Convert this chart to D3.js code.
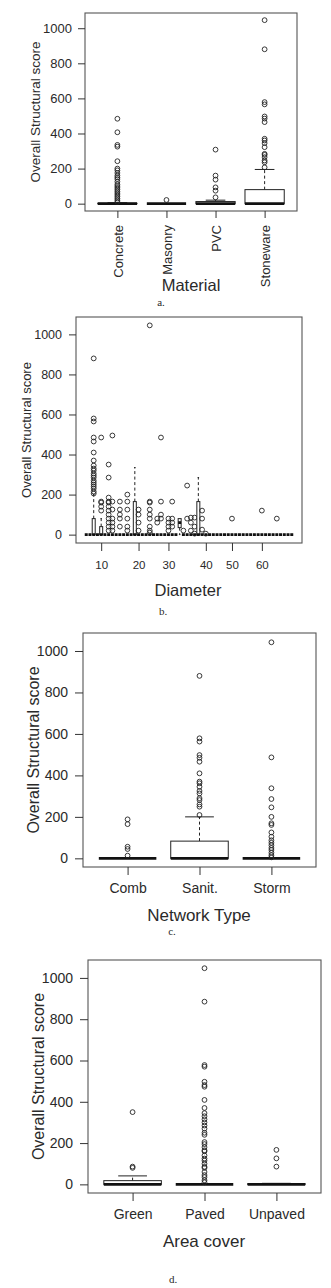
<!DOCTYPE html>
<html>
<head>
<meta charset="utf-8">
<script src="https://cdn.jsdelivr.net/npm/d3@7"></script>
<style>
  html, body { margin: 0; padding: 0; background: #fff; }
  svg { display: block; }
  text { font-family: "Liberation Sans", Arial, Helvetica, sans-serif; fill: #2a2a2a; }
  .cap { font-family: "Liberation Serif", "Times New Roman", serif; }
</style>
</head>
<body>
<svg id="chart" width="331" height="1288"></svg>
<script>
// ---------------- DATA ----------------
const yTicks = [0, 200, 400, 600, 800, 1000];
const yLabel = "Overall Structural score";

// Panel a: Material
const materialCats = ["Concrete", "Masonry", "PVC", "Stoneware"];
const materialQ1  = [0, 0, 0, 0];
const materialMed = [0, 0, 0, 0];
const materialQ3  = [2, 0, 12, 80];
const materialLo  = [0, 0, 0, 0];
const materialHi  = [5, 0, 20, 195];
const materialOutliers = [
  [484, 407, 335, 325, 242, 200, 190, 175, 160, 150, 140, 125, 110, 100, 90, 80, 70, 60, 50, 40, 30, 20, 10],
  [21],
  [308, 160, 137, 93, 74, 36],
  [1046, 880, 579, 566, 497, 485, 465, 370, 360, 345, 322, 284, 278, 265, 246, 236, 207]
];

// Panel b: Diameter
const diamCats = ["6","7","8","9","10","11","12","13","14","15","16","17","18","19","20","21","22","23","24","25",
  "26","28","30","31","32","33","34","35","36","37","38","39","40","41","42","44","45","46","48","50",
  "51","52","53","54","55","56","58","60","62","63","65","70","75","80","90","100"];
const diamTicks = ["10", "20", "30", "40", "50", "60"];
// categories that have a visible box (all others: box and median at 0)
const diamBoxCats = ["8", "10", "19", "33", "38"];
const diamBoxQ1   = [0, 0, 0, 35, 0];
const diamBoxMed  = [0, 0, 0, 60, 0];
const diamBoxQ3   = [80, 40, 165, 80, 165];
const diamBoxHi   = [200, 80, 335, 80, 285];
const diamOutliers = [
  ["8", [205, 215, 230, 240, 250, 260, 270, 285, 295, 305, 320, 330, 345, 370, 410, 465, 485, 565, 580, 880]],
  ["10", [120, 140, 160, 165, 485]],
  ["12", [350, 285, 185, 165, 160, 140, 120, 100, 80, 60, 40, 20]],
  ["13", [495, 165, 125, 80, 60, 40, 20]],
  ["15", [165, 125, 100, 80, 40]],
  ["17", [200, 165, 125, 80, 40, 20]],
  ["20", [125, 100, 60, 20]],
  ["23", [1045, 165, 160, 125, 100, 80, 40, 20, 10]],
  ["25", [80, 60]],
  ["26", [485, 165, 100, 80]],
  ["30", [80, 60, 40, 20]],
  ["31", [165, 80, 60, 40]],
  ["34", [20]],
  ["35", [245, 80]],
  ["36", [85, 60, 20]],
  ["37", [85, 40, 5]],
  ["39", [120, 80, 25]],
  ["40", [5]],
  ["50", [80]],
  ["60", [120]],
  ["70", [80]]
];

// Panel c: Network type
const networkCats = ["Comb", "Sanit.", "Storm"];
const networkQ1  = [0, 0, 0];
const networkMed = [0, 0, 0];
const networkQ3  = [0, 83, 0];
const networkLo  = [0, 0, 0];
const networkHi  = [0, 200, 0];
const networkOutliers = [
  [188, 165, 56, 45, 13],
  [880, 579, 563, 498, 485, 466, 410, 370, 362, 345, 325, 313, 290, 281, 260, 249, 209],
  [1042, 487, 338, 286, 246, 200, 169, 161, 125, 104, 87, 75, 63, 50, 40, 27, 15, 5]
];

// Panel d: Area cover
const coverCats = ["Green", "Paved", "Unpaved"];
const coverQ1  = [0, 0, 0];
const coverMed = [0, 0, 0];
const coverQ3  = [18, 0, 3];
const coverLo  = [0, 0, 0];
const coverHi  = [41, 0, 5];
const coverOutliers = [
  [350, 86, 80],
  [1047, 885, 578, 570, 497, 481, 473, 409, 370, 345, 330, 315, 300, 285, 270, 250, 240, 205, 195, 180,
   165, 160, 140, 125, 115, 100, 85, 80, 60, 45, 35, 20, 10],
  [167, 126, 86]
];

// ---------------- DRAWING ----------------
const svg = d3.select("#chart");
const yDomain = [-41.8, 1086.8];

function drawPanel(cfg) {
  const n = cfg.cats.length;
  const x = d3.scaleLinear().domain([0.5 - 0.04 * n, n + 0.5 + 0.04 * n]).range([cfg.l, cfg.r]);
  const y = d3.scaleLinear().domain(yDomain).range([cfg.b, cfg.t]);
  const unit = x(1) - x(0);
  const g = svg.append("g");

  cfg.stats.forEach((s, i) => {
    const cx = x(i + 1);
    const hw = 0.4 * unit;
    const sw = 0.2 * unit;
    if (s.hi > s.q3) {
      g.append("line").attr("x1", cx).attr("x2", cx).attr("y1", y(s.q3)).attr("y2", y(s.hi))
        .attr("stroke", "#222").attr("stroke-width", 1).attr("stroke-dasharray", "3,2.5");
      g.append("line").attr("x1", cx - sw).attr("x2", cx + sw).attr("y1", y(s.hi)).attr("y2", y(s.hi))
        .attr("stroke", "#222").attr("stroke-width", 1);
    }
    if (s.lo < s.q1) {
      g.append("line").attr("x1", cx).attr("x2", cx).attr("y1", y(s.q1)).attr("y2", y(s.lo))
        .attr("stroke", "#222").attr("stroke-width", 1).attr("stroke-dasharray", "3,2.5");
      g.append("line").attr("x1", cx - sw).attr("x2", cx + sw).attr("y1", y(s.lo)).attr("y2", y(s.lo))
        .attr("stroke", "#222").attr("stroke-width", 1);
    }
    if (s.q3 > s.q1) {
      g.append("rect").attr("x", cx - hw).attr("width", 2 * hw)
        .attr("y", y(s.q3)).attr("height", y(s.q1) - y(s.q3))
        .attr("fill", "#fff").attr("stroke", "#222").attr("stroke-width", 1);
    }
    g.append("line").attr("x1", cx - hw).attr("x2", cx + hw).attr("y1", y(s.med)).attr("y2", y(s.med))
      .attr("stroke", "#111").attr("stroke-width", 2.8);
    g.selectAll(null).data(s.out).enter().append("circle")
      .attr("cx", cx).attr("cy", d => y(d)).attr("r", cfg.r0 || 2.4)
      .attr("fill", "none").attr("stroke", "#222").attr("stroke-width", 0.9);
  });

  g.append("rect").attr("x", cfg.l).attr("y", cfg.t).attr("width", cfg.r - cfg.l).attr("height", cfg.b - cfg.t)
    .attr("fill", "none").attr("stroke", "#555").attr("stroke-width", 1.1);

  const ya = g.append("g").attr("transform", `translate(${cfg.l},0)`)
    .call(d3.axisLeft(y).tickValues(yTicks).tickFormat(d3.format("d")).tickSize(cfg.ytick).tickPadding(cfg.ypad));
  ya.select(".domain").remove();
  ya.selectAll("line").attr("stroke", "#333");
  ya.selectAll("text").style("font-size", cfg.yfs + "px").attr("fill", "#2a2a2a")
    .style("font-family", '"Liberation Sans", Arial, sans-serif');

  const xa = g.append("g").attr("transform", `translate(0,${cfg.b})`)
    .call(d3.axisBottom(x).tickValues(cfg.tickIdx).tickFormat((d, i) => cfg.tickLabels[i]).tickSize(cfg.xtick));
  xa.select(".domain").remove();
  xa.selectAll("line").attr("stroke", "#333");
  const xt = xa.selectAll("text").style("font-size", cfg.xfs + "px").attr("fill", "#2a2a2a")
    .style("font-family", '"Liberation Sans", Arial, sans-serif');
  if (cfg.rotate) {
    xt.attr("transform", "rotate(-90)").attr("x", -cfg.xlabOff).attr("y", 0).attr("dy", "0.36em")
      .style("text-anchor", "end");
  } else {
    xt.attr("y", cfg.xlabOff).attr("dy", null);
  }

  svg.append("text").attr("transform", `translate(${cfg.ylx},${(cfg.t + cfg.b) / 2}) rotate(-90)`)
    .attr("text-anchor", "middle").attr("dy", "0.36em").style("font-size", cfg.ylfs + "px").text(yLabel);
  svg.append("text").attr("x", cfg.xtx).attr("y", cfg.xty).attr("text-anchor", "middle")
    .style("font-size", cfg.xtfs + "px").text(cfg.title);
  svg.append("text").attr("class", "cap").attr("x", cfg.capx).attr("y", cfg.capy).attr("text-anchor", "middle")
    .style("font-size", "11px").text(cfg.cap);
}

function zipStats(q1, med, q3, lo, hi, outs) {
  return q1.map((d, i) => ({ q1: d, med: med[i], q3: q3[i], lo: lo[i], hi: hi[i], out: outs[i] }));
}

const diamStats = diamCats.map(c => {
  const bi = diamBoxCats.indexOf(c);
  const o = diamOutliers.find(d => d[0] === c);
  return bi >= 0
    ? { q1: diamBoxQ1[bi], med: diamBoxMed[bi], q3: diamBoxQ3[bi], lo: 0, hi: diamBoxHi[bi], out: o ? o[1] : [] }
    : { q1: 0, med: 0, q3: 0, lo: 0, hi: 0, out: o ? o[1] : [] };
});

drawPanel({
  cats: materialCats, stats: zipStats(materialQ1, materialMed, materialQ3, materialLo, materialHi, materialOutliers),
  l: 85, r: 297, t: 13, b: 211,
  tickIdx: materialCats.map((d, i) => i + 1), tickLabels: materialCats, rotate: true,
  ytick: 7, ypad: 6, yfs: 13, xtick: 7, xfs: 13, xlabOff: 14,
  ylx: 35, ylfs: 13.5, title: "Material", xtx: 191, xty: 291, xtfs: 16.5, cap: "a.", capx: 161, capy: 306
});

drawPanel({
  cats: diamCats, stats: diamStats,
  l: 76, r: 302, t: 317, b: 543,
  tickIdx: diamTicks.map(t => diamCats.indexOf(t) + 1), tickLabels: diamTicks, rotate: false,
  ytick: 7, ypad: 7, yfs: 12.5, xtick: 8, xfs: 11.5, xlabOff: 26,
  ylx: 26, ylfs: 13, title: "Diameter", xtx: 188, xty: 596, xtfs: 16.5, cap: "b.", capx: 163, capy: 615
});

drawPanel({
  cats: networkCats, stats: zipStats(networkQ1, networkMed, networkQ3, networkLo, networkHi, networkOutliers),
  l: 83, r: 316, t: 633, b: 867,
  tickIdx: networkCats.map((d, i) => i + 1), tickLabels: networkCats, rotate: false,
  ytick: 8, ypad: 7, yfs: 14, xtick: 8, xfs: 14, xlabOff: 26,
  ylx: 33, ylfs: 16, title: "Network Type", xtx: 199, xty: 921, xtfs: 17, cap: "c.", capx: 172, capy: 935
});

drawPanel({
  cats: coverCats, stats: zipStats(coverQ1, coverMed, coverQ3, coverLo, coverHi, coverOutliers),
  l: 88, r: 321, t: 960, b: 1193,
  tickIdx: coverCats.map((d, i) => i + 1), tickLabels: coverCats, rotate: false,
  ytick: 8, ypad: 7, yfs: 14, xtick: 8, xfs: 14, xlabOff: 26,
  ylx: 38, ylfs: 16, title: "Area cover", xtx: 204, xty: 1247, xtfs: 17, cap: "d.", capx: 173, capy: 1283
});
</script>
</body>
</html>
